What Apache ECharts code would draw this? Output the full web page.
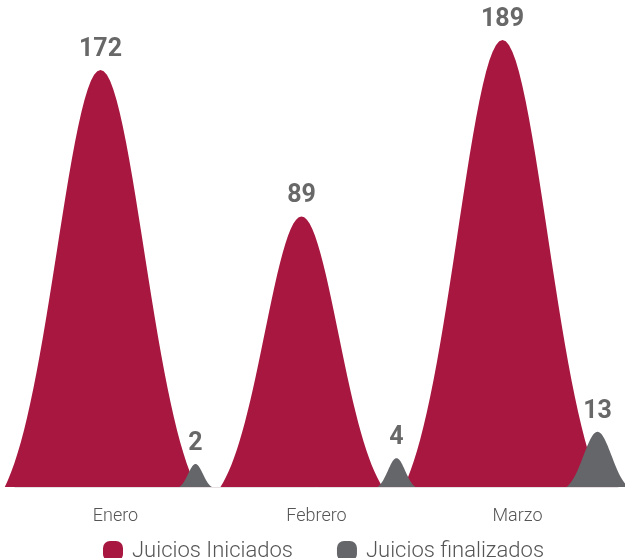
<!DOCTYPE html>
<html>
<head>
<meta charset="utf-8">
<script src="https://cdn.jsdelivr.net/npm/echarts@6/dist/echarts.min.js"></script>
<style>
  html, body { margin: 0; padding: 0; background: #fff; }
  #chart { width: 625px; height: 558px; }
</style>
</head>
<body>
<div id="chart"></div>
<script>
  const categories = ['Enero', 'Febrero', 'Marzo']
  const iniciados = [172, 89, 189]
  const finalizados = [2, 4, 13]
  const seriesNames = ['Juicios Iniciados', 'Juicios finalizados']

  const RED = '#A8173F'
  const GRAY = '#65666A'
  const LABEL_FONT = 'bold 25px Roboto, sans-serif'

  // bell shaped mountain from the axis base up to the value
  function bellRender (offset, widthFn, color) {
    return function (params, api) {
      const idx = api.value(0)
      const val = api.value(1)
      const top = api.coord([idx, val])
      const base = params.coordSys.y + params.coordSys.height
      const h = base - top[1]
      const w = widthFn(h)
      const cx = top[0] + offset
      const k = 2.2
      const floor = Math.exp(-k * k / 2)
      const pts = []
      const n = 60
      for (let i = 0; i <= n; i++) {
        const t = -k + (2 * k * i) / n
        const p = (Math.exp(-t * t / 2) - floor) / (1 - floor)
        pts.push([cx + (t / k) * w / 2, base - p * h])
      }
      return {
        type: 'polygon',
        shape: { points: pts },
        style: { fill: color },
        textContent: {
          style: { text: String(val), fill: '#686868', font: LABEL_FONT }
        },
        textConfig: { position: 'top', distance: 8 }
      }
    }
  }

  const chart = echarts.init(document.getElementById('chart'))
  chart.setOption({
    animation: false,
    grid: { left: 15, right: 7, top: 0, bottom: 71 },
    legend: {
      data: seriesNames,
      left: 98,
      top: 535,
      itemWidth: 20,
      itemHeight: 20,
      itemGap: 44,
      icon: 'path://M7,0 h6 a7,7 0 0 1 7,7 v6 a7,7 0 0 1 -7,7 h-6 a7,7 0 0 1 -7,-7 v-6 a7,7 0 0 1 7,-7 z',
      textStyle: { fontSize: 22, color: '#555', fontWeight: 300, fontFamily: 'Roboto', padding: [0, 0, 0, 4] }
    },
    xAxis: {
      type: 'category',
      data: categories,
      axisTick: { show: false },
      axisLine: { onZero: false, lineStyle: { color: '#e6e0e2' } },
      axisLabel: { margin: 20, color: '#555', fontSize: 18, fontWeight: 300, fontFamily: 'Roboto' }
    },
    yAxis: [
      { type: 'value', min: -64.2, max: 211.6, show: false },
      { type: 'value', min: -5.84, max: 160.4, show: false }
    ],
    series: [
      {
        name: seriesNames[0],
        type: 'custom',
        yAxisIndex: 0,
        itemStyle: { color: RED },
        encode: { x: 0, y: 1 },
        data: iniciados.map((v, i) => [i, v]),
        renderItem: bellRender(-15, h => 0.2 * h + 108, RED)
      },
      {
        name: seriesNames[1],
        type: 'custom',
        yAxisIndex: 1,
        itemStyle: { color: GRAY },
        encode: { x: 0, y: 1 },
        data: finalizados.map((v, i) => [i, v]),
        renderItem: bellRender(80, h => 0.9 * h + 12, GRAY)
      }
    ]
  })
</script>
</body>
</html>
